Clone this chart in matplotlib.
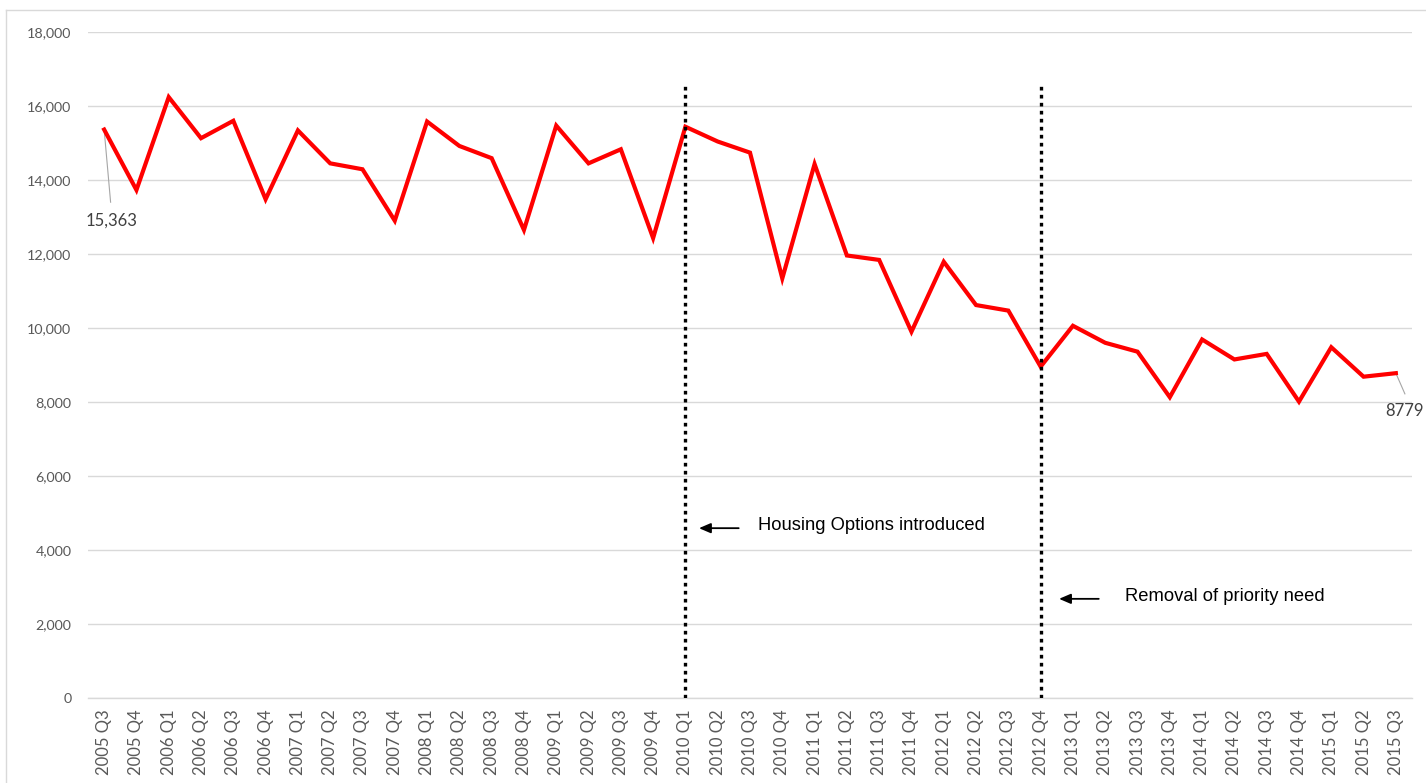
import matplotlib
matplotlib.use("Agg")
import matplotlib.pyplot as plt
from matplotlib.lines import Line2D

plt.rcParams['font.family'] = ['Lato', 'DejaVu Sans']

quarters = ["2005 Q3", "2005 Q4"] + [f"{y} Q{q}" for y in range(2006, 2015) for q in range(1, 5)] + ["2015 Q1", "2015 Q2", "2015 Q3"]
values = [15363, 13730, 16240, 15130, 15600, 13480, 15340, 14450, 14290, 12900,
          15580, 14920, 14590, 12650, 15470, 14450, 14830, 12430, 15440, 15040,
          14740, 11340, 14430, 11960, 11840, 9900, 11790, 10620, 10470, 8955,
          10060, 9600, 9360, 8130, 9690, 9150, 9300, 8010, 9480, 8684, 8779]
events = ["2010 Q1", "2012 Q4"]
event_labels = ["Housing Options introduced", "Removal of priority need"]
event_label_y = [4650, 2740]
event_line_top = 16550

fig = plt.figure(figsize=(14.26, 7.83), dpi=100)
ax = fig.add_axes([88/1426, 1 - 698/783, (1412-88)/1426, (698-32)/783])

x = list(range(len(quarters)))
ax.plot(x, values, color="#FF0000", lw=3.0, solid_joinstyle="miter", zorder=3)

ax.set_xlim(-0.5, len(quarters) - 0.5)
ax.set_ylim(0, 18000)
ax.set_yticks(range(0, 18001, 2000))
ax.set_yticklabels([f"{v:,}" for v in range(0, 18001, 2000)])
ax.set_xticks(x)
ax.set_xticklabels(quarters, rotation=90)
ax.tick_params(axis='both', length=0, labelcolor="#595959")
ax.tick_params(axis='y', pad=12, labelsize=10.3)
ax.tick_params(axis='x', pad=8, labelsize=12)
ax.grid(axis='y', color="#d9d9d9", lw=1)
ax.axhline(0, color="#d9d9d9", lw=1, clip_on=False, zorder=1)
ax.set_axisbelow(True)
for s in ax.spines.values():
    s.set_visible(False)

offsets = [(0.42, 1.65, 2.25), (0.57, 1.8, 2.62)]
for ev, lab, ly, (a0, a1, t0) in zip(events, event_labels, event_label_y, offsets):
    i = quarters.index(ev)
    ax.plot([i, i], [0, event_line_top], color="black", lw=2.4,
            linestyle=(0, (1.1, 1.3)), zorder=4)
    ax.annotate("", xy=(i + a0, ly - 60), xytext=(i + a1, ly - 60),
                arrowprops=dict(arrowstyle="-|>,head_length=0.7,head_width=0.3",
                                color="black", lw=1.3, shrinkA=0, shrinkB=0))
    ax.text(i + t0, ly, lab, fontsize=13.2, color="black", va="center", ha="left",
            family=['Liberation Sans Narrow', 'Liberation Sans'])

# data labels with leader lines
ax.plot([0, 0.2], [values[0], 13400], color="#a6a6a6", lw=0.8)
ax.text(0.22, 13130, f"{values[0]:,}", fontsize=12, color="#404040", ha="center", va="top")
n = len(values) - 1
ax.plot([n, n + 0.28], [values[-1], 8220], color="#a6a6a6", lw=0.8)
ax.text(n + 0.28, 7970, f"{values[-1]}", fontsize=12, color="#404040", ha="center", va="top")

# outer chart border (top and left)
fig.add_artist(Line2D([6/1426, 6/1426], [0, 1 - 10/783], color="#d9d9d9", lw=1))
fig.add_artist(Line2D([6/1426, 1], [1 - 10/783, 1 - 10/783], color="#d9d9d9", lw=1))

fig.savefig("out.png", dpi=100, facecolor="white")
